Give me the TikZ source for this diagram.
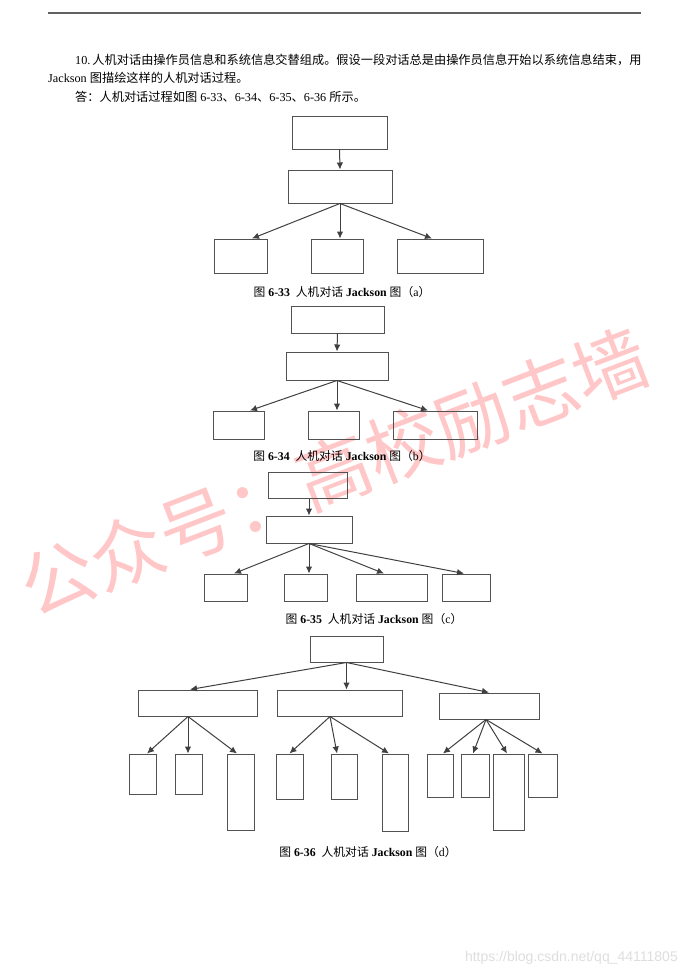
\documentclass[tikz,border=0pt]{standalone}
\usepackage{fontspec}
\setmainfont{Liberation Serif}
\newfontfamily\zhfont{Noto Sans CJK SC}
\newfontfamily\urlfont{Liberation Sans}
\newcommand{\cn}[1]{{\zhfont #1}}
\usetikzlibrary{arrows.meta,positioning,calc}

\begin{document}
\begin{tikzpicture}[
    x=1pt, y=-1pt,
    box/.style={rectangle, draw=black!68, line width=1pt, inner sep=0pt},
    arrow/.style={->, >={Latex[length=7pt,width=6.5pt]}, line width=1pt, draw=black!75},
    txt/.style={anchor=base west, inner sep=0pt, font=\fontsize{12.2}{15}\selectfont},
    captext/.style={inner sep=0pt, font=\fontsize{11.8}{14}\selectfont},
    wmark/.style={inner sep=0pt, text=red!22, font=\zhfont\fontsize{74}{74}\selectfont}
]
\useasboundingbox (0,0) rectangle (688,972);
\fill[white] (0,0) rectangle (688,972);

% Watermark
\node[wmark, rotate=21] (wm) at (334,472) {公众号：高校励志墙};
\node[anchor=base east, inner sep=0pt, text=black!13, font=\urlfont\fontsize{14}{16}\selectfont] (url) at (678,961) {https://blog.csdn.net/qq\_44111805};

% Header rule and question
\draw[line width=1.5pt, black!62] (48,13) -- (641,13);
\node[txt] (t1) at (75,64) {10.\,\cn{人机对话由操作员信息和系统信息交替组成。假设一段对话总是由操作员信息开始以系统信息结束，用}};
\node[txt] (t2) at (48,82) {Jackson \cn{图描绘这样的人机对话过程。}};
\node[txt] (t3) at (75,101) {\cn{答：人机对话过程如图} 6-33\cn{、}6-34\cn{、}6-35\cn{、}6-36 \cn{所示。}};

% Figure (a)
\node[box, minimum width=95, minimum height=33] (a0) at (339.5,132.5) {};
\node[box, minimum width=104, minimum height=33] (a1) at (340,186.5) {};
\node[box, minimum width=53, minimum height=34] (a2) at (240.5,256) {};
\node[box, minimum width=52, minimum height=34] (a3) at (337,256) {};
\node[box, minimum width=86, minimum height=34] (a4) at (440,256) {};
\draw[arrow] (a0.south) -- (a1.north);
\draw[arrow] (a1.south) -- ($(a2.north)+(11.5,0)$);
\draw[arrow] (a1.south) -- (a1.south |- a3.north);
\draw[arrow] (a1.south) -- ($(a4.north)+(-8,0)$);
\node[captext] (capa) at (342,292) {\cn{图} \textbf{6-33}\ \ \cn{人机对话} \textbf{Jackson} \cn{图（}a\cn{）}};

% Figure (b)
\node[box, minimum width=93, minimum height=27] (b0) at (337.5,319.5) {};
\node[box, minimum width=102, minimum height=28] (b1) at (337,366) {};
\node[box, minimum width=51, minimum height=28] (b2) at (238.5,425) {};
\node[box, minimum width=51, minimum height=28] (b3) at (333.5,425) {};
\node[box, minimum width=84, minimum height=28] (b4) at (435,425) {};
\draw[arrow] (b0.south) -- (b1.north);
\draw[arrow] (b1.south) -- ($(b2.north)+(11.5,0)$);
\draw[arrow] (b1.south) -- (b1.south |- b3.north);
\draw[arrow] (b1.south) -- ($(b4.north)+(-7,0)$);
\node[captext] (capb) at (342,456) {\cn{图} \textbf{6-34}\ \ \cn{人机对话} \textbf{Jackson} \cn{图（}b\cn{）}};

% Figure (c)
\node[box, minimum width=79, minimum height=26] (c0) at (307.5,485) {};
\node[box, minimum width=86, minimum height=27] (c1) at (309,529.5) {};
\node[box, minimum width=43, minimum height=27] (c2) at (225.5,587.5) {};
\node[box, minimum width=43, minimum height=27] (c3) at (305.5,587.5) {};
\node[box, minimum width=71, minimum height=27] (c4) at (391.5,587.5) {};
\node[box, minimum width=48, minimum height=27] (c5) at (466,587.5) {};
\draw[arrow] (c0.south -| c1.south) -- (c1.north);
\draw[arrow] (c1.south) -- ($(c2.north)+(8.5,0)$);
\draw[arrow] (c1.south) -- (c1.south |- c3.north);
\draw[arrow] (c1.south) -- ($(c4.north)+(-7.5,0)$);
\draw[arrow] (c1.south) -- ($(c5.north)+(-2,0)$);
\node[captext] (capc) at (374,619) {\cn{图} \textbf{6-35}\ \ \cn{人机对话} \textbf{Jackson} \cn{图（}c\cn{）}};

% Figure (d)
\node[box, minimum width=73, minimum height=26] (d0) at (346.5,649) {};
\node[box, minimum width=119, minimum height=26] (dL) at (197.5,703) {};
\node[box, minimum width=125, minimum height=26] (dM) at (339.5,703) {};
\node[box, minimum width=100, minimum height=26] (dR) at (489,706) {};
\draw[arrow] (d0.south) -- ($(dL.north)+(-7.5,0)$);
\draw[arrow] (d0.south) -- (d0.south |- dM.north);
\draw[arrow] (d0.south) -- (dR.north);

\node[box, minimum width=27, minimum height=40] (l1) at (142.5,774) {};
\node[box, minimum width=27, minimum height=40] (l2) at (188.5,774) {};
\node[box, minimum width=27, minimum height=76] (l3) at (240.5,792) {};
\coordinate (sL) at ($(dL.south)+(-9.5,0)$);
\draw[arrow] (sL) -- ($(l1.north)+(4.5,0)$);
\draw[arrow] (sL) -- (sL |- l2.north);
\draw[arrow] (sL) -- ($(l3.north)+(-3.5,0)$);

\node[box, minimum width=27, minimum height=45] (m1) at (289.5,776.5) {};
\node[box, minimum width=26, minimum height=45] (m2) at (344,776.5) {};
\node[box, minimum width=26, minimum height=77] (m3) at (395,792.5) {};
\coordinate (sM) at ($(dM.south)+(-9.5,0)$);
\draw[arrow] (sM) -- (m1.north);
\draw[arrow] (sM) -- ($(m2.north)+(-7,0)$);
\draw[arrow] (sM) -- ($(m3.north)+(-6,0)$);

\node[box, minimum width=26, minimum height=43] (r1) at (440,775.5) {};
\node[box, minimum width=28, minimum height=43] (r2) at (475,775.5) {};
\node[box, minimum width=31, minimum height=76] (r3) at (508.5,792) {};
\node[box, minimum width=29, minimum height=43] (r4) at (542.5,775.5) {};
\coordinate (sR) at ($(dR.south)+(-3,0)$);
\draw[arrow] (sR) -- ($(r1.north)+(3,0)$);
\draw[arrow] (sR) -- ($(r2.north)+(-2,0)$);
\draw[arrow] (sR) -- ($(r3.north)+(-1.5,0)$);
\draw[arrow] (sR) -- (r4.north);
\node[captext] (capd) at (368,852) {\cn{图} \textbf{6-36}\ \ \cn{人机对话} \textbf{Jackson} \cn{图（}d\cn{）}};

\end{tikzpicture}
\end{document}
